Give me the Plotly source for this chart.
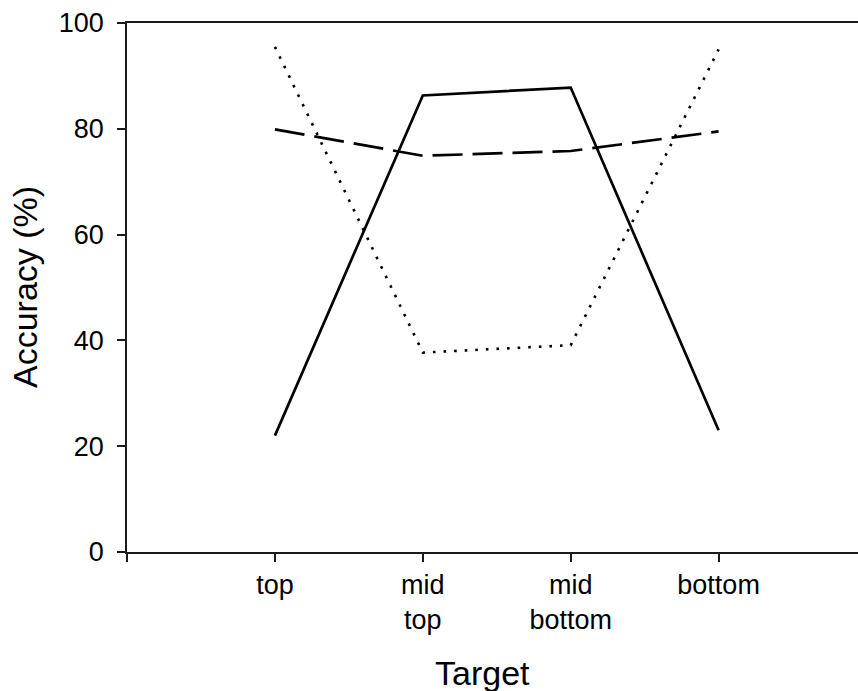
import plotly.graph_objects as go

# Target positions along the x axis
categories = ["top", "mid<br>top", "mid<br>bottom", "bottom"]

# Accuracy (%) for the three conditions
solid_vals = [22.0, 86.3, 87.8, 23.0]
dashed_vals = [79.9, 74.9, 75.8, 79.5]
dotted_vals = [95.5, 37.7, 39.1, 95.0]

y_ticks = [0, 20, 40, 60, 80, 100]

xpos = list(range(len(categories)))

FONT = "Liberation Sans, Arial, sans-serif"
AXIS_COLOR = "#1a1a1a"

fig = go.Figure()

fig.add_trace(go.Scatter(
    x=xpos, y=dotted_vals, mode="lines",
    line=dict(color="black", width=2.6, dash="2.6px,8px"),
    showlegend=False, hoverinfo="skip",
))
fig.add_trace(go.Scatter(
    x=xpos, y=dashed_vals, mode="lines",
    line=dict(color="black", width=2.7, dash="30px,10px"),
    showlegend=False, hoverinfo="skip",
))
fig.add_trace(go.Scatter(
    x=xpos, y=solid_vals, mode="lines",
    line=dict(color="black", width=2.7),
    showlegend=False, hoverinfo="skip",
))

W, H = 858, 691
ML, MR, MT, MB = 127, 0, 23, 139
step_px = 147.9
x_max = -1 + (W - ML - MR) / step_px

fig.update_layout(
    width=W, height=H,
    margin=dict(l=ML, r=MR, t=MT, b=MB, pad=0),
    paper_bgcolor="white", plot_bgcolor="white",
    font=dict(family=FONT, color="black"),
    xaxis=dict(
        range=[-1, x_max],
        tickvals=[-1] + xpos,
        ticktext=[""] + categories,
        showgrid=False, zeroline=False,
        showline=True, linecolor=AXIS_COLOR, linewidth=1.5, mirror=True,
        ticks="outside", ticklen=8, tickwidth=1.5, tickcolor=AXIS_COLOR,
        tickfont=dict(size=27, family=FONT, color="black"),
    ),
    yaxis=dict(
        range=[0, 100],
        tickvals=y_ticks,
        showgrid=False, zeroline=False,
        showline=True, linecolor=AXIS_COLOR, linewidth=1.5,
        ticks="outside", ticklen=8, tickwidth=1.5, tickcolor=AXIS_COLOR,
        tickfont=dict(size=27, family=FONT, color="black"),
        ticklabelstandoff=8,
    ),
    annotations=[
        dict(text="Target", xref="paper", yref="paper",
             x=(482 - ML) / (W - ML - MR), y=0,
             xanchor="center", yanchor="middle", yshift=-121,
             showarrow=False, font=dict(size=34, family=FONT, color="black")),
        dict(text="Accuracy (%)", xref="paper", yref="paper",
             x=0, y=0.5, xanchor="center", yanchor="middle",
             xshift=-102.5, textangle=-90,
             showarrow=False, font=dict(size=34, family=FONT, color="black")),
    ],
)

fig.write_html("out.html")
